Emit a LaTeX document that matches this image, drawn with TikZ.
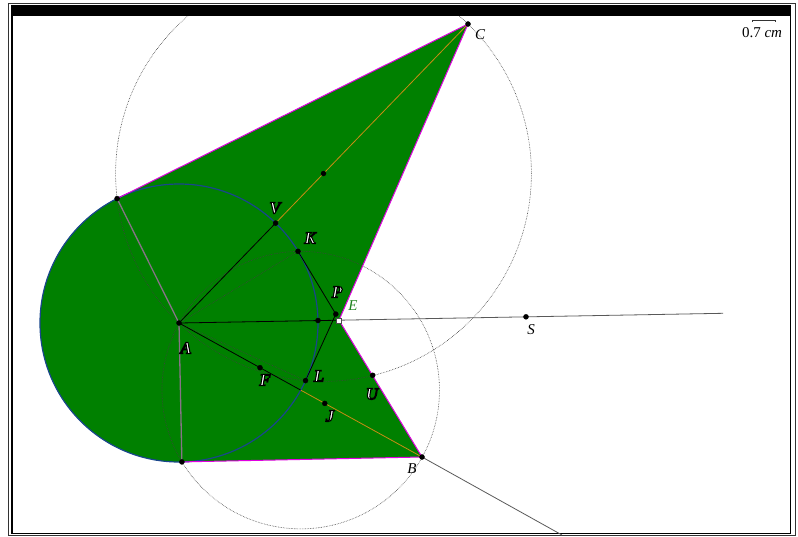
\documentclass[tikz,border=0pt]{standalone}
\usepackage{fontspec}
\setmainfont{Liberation Serif}

\definecolor{fillgreen}{RGB}{0,128,0}
\definecolor{circblue}{RGB}{25,70,140}
\definecolor{edgemag}{RGB}{225,0,225}
\definecolor{radgray}{RGB}{135,115,135}
\definecolor{segorange}{RGB}{200,140,20}
\definecolor{labgreen}{RGB}{30,130,30}

\newcommand*{\circrad}{139}
\newcommand*{\bigrad}{207.9}
\newcommand*{\smallrad}{138.75}
% white letters with a black outline
\newcommand*{\outl}[1]{\special{pdf:code 0 G 1.1 w 2 Tr}#1\special{pdf:code 0 Tr}}

\begin{document}
\begin{tikzpicture}
[
	x=1pt,y=-1pt,
	closedpt/.style={circle,draw,fill,inner sep=0pt,minimum size=5pt},
	openpt/.style={rectangle,draw=black!70,fill=white,inner sep=0pt,minimum size=5pt},
	outlbl/.style={text=white,font=\fontsize{17}{19}\selectfont\bfseries\itshape,inner sep=0pt},
	plainlbl/.style={font=\fontsize{15}{17}\selectfont\itshape,inner sep=0pt},
	construct/.style={densely dotted,black!75,line width=0.6pt}
]

	% frame
	\useasboundingbox (0,0) rectangle (798,536);
	\draw[black!80,line width=0.8pt] (8,3) rectangle (795,535.5);
	\draw[line width=1.5pt] (12,5.5) rectangle (790.5,533.5);
	\fill (12,5) rectangle (790.5,16);

	% points
	\coordinate (A) at (179,323);
	\coordinate (B) at (422,457);
	\coordinate (C) at (468,24);
	\coordinate (T1) at (117.1,198.6);
	\coordinate (T2) at (181.9,461.9);
	\coordinate (V) at (275.6,223.1);
	\coordinate (K) at (298,251.3);
	\coordinate (L) at (305.5,380.6);
	\coordinate (P) at (335.8,314.1);
	\coordinate (E) at (339,320.2);
	\coordinate (W) at (318,320.5);
	\coordinate (M) at (300.7,390.1);
	\coordinate (N) at (323.5,173.5);
	\coordinate (F) at (260,367.7);
	\coordinate (J) at (324.8,403.4);
	\coordinate (U) at (372.7,375.3);
	\coordinate (S) at (526,316.8);
	\coordinate (Send) at (723,313.3);
	\coordinate (Bend) at (562,535);

	% green region
	\fill[fillgreen] (A) circle [radius=\circrad];
	\fill[fillgreen] (C) -- (T1) -- (A) -- (T2) -- (B) -- (E) -- cycle;

	% construction circles
	\begin{scope}
		\clip (12,16) rectangle (790,533);
		\draw[construct] (N) circle [radius=\bigrad];
		\draw[construct] (M) circle [radius=\smallrad];
	\end{scope}
	\draw[construct] (A) -- (K);
	\draw[construct] (A) -- (L);

	\draw[circblue,line width=1.2pt] (A) circle [radius=\circrad];
	\draw[edgemag,line width=1pt] (C) -- (T1) (T2) -- (B) -- (E) -- (C);
	\draw[radgray,line width=1.3pt] (T1) -- (A) -- (T2);

	% segments and rays
	\draw[line width=0.8pt] (A) -- (V) (A) -- (M) (A) -- (E) (K) -- (P) -- (L);
	\draw[segorange,line width=0.8pt] (V) -- (C) (M) -- (B);
	\draw[black!65,line width=0.8pt] (E) -- (Send) (B) -- (Bend);

	\foreach \p in {A,B,C,T1,T2,V,K,L,P,W,N,F,J,U,S}
		\node[closedpt] (dot\p) at (\p) {};
	\node[openpt] (dotE) at (E) {};

	% labels
	\node[outlbl] (lblV) at (275,208) {\outl{V}};
	\node[outlbl] (lblK) at (310,238) {\outl{K}};
	\node[outlbl] (lblP) at (337,292) {\outl{P}};
	\node[outlbl] (lblA) at (186,348) {\outl{A}};
	\node[outlbl] (lblF) at (265,380) {\outl{F}};
	\node[outlbl] (lblL) at (319,376) {\outl{L}};
	\node[outlbl] (lblU) at (372,394) {\outl{U}};
	\node[outlbl] (lblJ) at (330,416) {\outl{J}};
	\node[plainlbl,text=labgreen] (lblE) at (353,306) {E};
	\node[plainlbl] (lblC) at (480,35) {C};
	\node[plainlbl] (lblB) at (412,469) {B};
	\node[plainlbl] (lblS) at (531,330) {S};

	% scale
	\draw[black!80] (752,22) -- (752,20) -- (775,20) -- (775,22);
	\node[font=\fontsize{15}{17}\selectfont] (scale) at (762,33) {0.7 \textit{cm}};

\end{tikzpicture}
\end{document}
